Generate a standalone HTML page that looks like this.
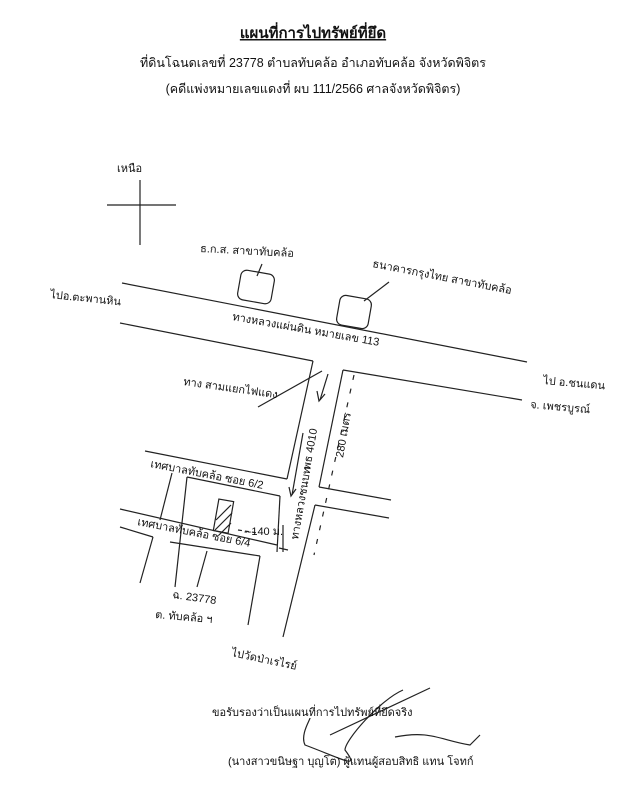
<!DOCTYPE html>
<html><head><meta charset="utf-8"><style>
body{margin:0;background:#fff;}
svg{display:block}
text{font-family:"Liberation Sans","Noto Sans CJK SC",sans-serif;fill:#111}
.h{font-family:"Liberation Serif","Noto Serif CJK SC",serif}
</style></head><body>
<svg width="626" height="800" viewBox="0 0 626 800" xmlns="http://www.w3.org/2000/svg">
<g class="h">
<text x="313" y="38" font-size="15" font-weight="bold" text-anchor="middle" text-decoration="underline">แผนที่การไปทรัพย์ที่ยึด</text>
<text x="313" y="67" font-size="12.5" text-anchor="middle">ที่ดินโฉนดเลขที่  23778  ตำบลทับคล้อ  อำเภอทับคล้อ  จังหวัดพิจิตร</text>
<text x="313" y="93" font-size="12.5" text-anchor="middle">(คดีแพ่งหมายเลขแดงที่ ผบ 111/2566 ศาลจังหวัดพิจิตร)</text>
</g>
<g stroke="#222" stroke-width="1.2" fill="none">
<!-- north cross -->
<line x1="140" y1="180" x2="140" y2="245"/>
<line x1="107" y1="205" x2="176" y2="205"/>
<!-- main road -->
<line x1="122" y1="283" x2="527" y2="362"/>
<line x1="120" y1="323" x2="313" y2="361"/>
<line x1="343" y1="370" x2="522" y2="400"/>
<!-- vertical road -->
<line x1="313" y1="361" x2="287" y2="479"/>
<line x1="343" y1="370" x2="319" y2="487"/>
<line x1="315" y1="505" x2="283" y2="637"/>
<line x1="280" y1="496" x2="277" y2="552"/>
<!-- right side road -->
<line x1="319" y1="487" x2="391" y2="500"/>
<line x1="315" y1="505" x2="389" y2="518"/>
<!-- soi 6/2 -->
<line x1="145" y1="451" x2="287" y2="479"/>
<line x1="187" y1="477" x2="280" y2="496"/>
<line x1="187" y1="477" x2="175" y2="587"/>
<line x1="172" y1="473" x2="160" y2="520"/>
<!-- soi 6/4 -->
<line x1="120" y1="509" x2="277" y2="545"/>
<line x1="120" y1="527" x2="153" y2="537"/>
<line x1="153" y1="537" x2="140" y2="583"/>
<line x1="170" y1="542" x2="260" y2="556"/>
<line x1="260" y1="556" x2="248" y2="625"/>
<!-- buildings -->
<rect x="239" y="272" width="34" height="30" rx="6" transform="rotate(10 256 287)"/>
<rect x="338" y="297" width="32" height="30" rx="6" transform="rotate(10 354 312)"/>
<line x1="262" y1="264" x2="257" y2="276"/>
<line x1="389" y1="282" x2="364" y2="301"/>
<!-- leader -->
<line x1="322" y1="371" x2="258" y2="407"/>
<!-- arrow down -->
<line x1="328" y1="374" x2="320" y2="400"/>
<polyline points="317,391 319,401 325,394"/>
<line x1="303" y1="433" x2="292" y2="495"/>
<polyline points="289,487 291,496 296,489"/>
<!-- 280 m dashed -->
<line x1="354" y1="375" x2="314" y2="555" stroke-dasharray="5,9"/>
<!-- plot -->
<rect x="216" y="500" width="15" height="32" transform="rotate(10 223 516)"/>
<line x1="216" y1="520" x2="231" y2="505"/>
<line x1="215" y1="530" x2="232" y2="513"/>
<line x1="219" y1="535" x2="231" y2="523"/>
<line x1="207" y1="551" x2="197" y2="587"/>
<line x1="238" y1="530" x2="258" y2="533" stroke-dasharray="4,3"/>
<line x1="279" y1="548" x2="288" y2="550"/>
<line x1="283" y1="525" x2="283" y2="552"/>
<!-- signature -->
<path d="M403 690 C380 700 345 740 345 750 C360 770 345 760 305 745 C300 735 310 720 310 718" />
<path d="M430 688 L330 735"/>
<path d="M395 737 C430 730 440 740 470 745 L480 735"/>
</g>
<g font-size="11">
<text x="117" y="172">เหนือ</text>
<text x="200" y="252" transform="rotate(3 200 252)">ธ.ก.ส. สาขาทับคล้อ</text>
<text x="372" y="267" transform="rotate(11 372 267)">ธนาคารกรุงไทย สาขาทับคล้อ</text>
<text x="50" y="298" transform="rotate(6 50 298)">ไปอ.ตะพานหิน</text>
<text x="232" y="320" transform="rotate(10 232 320)">ทางหลวงแผ่นดิน หมายเลข 113</text>
<text x="183" y="385" transform="rotate(8 183 385)">ทาง สามแยกไฟแดง</text>
<text x="543" y="384" transform="rotate(5 543 384)">ไป อ.ชนแดน</text>
<text x="530" y="408" transform="rotate(5 530 408)">จ. เพชรบูรณ์</text>
<text x="150" y="467" transform="rotate(11 150 467)">เทศบาลทับคล้อ ซอย 6/2</text>
<text x="137" y="525" transform="rotate(11 137 525)">เทศบาลทับคล้อ ซอย 6/4</text>
<text x="244" y="535">--140 ม.</text>
<text x="310" y="470" transform="rotate(-80 310 470)">พธ 4010</text>
<text x="343" y="458" transform="rotate(-80 343 458)">280 เมตร</text>
<text x="298" y="540" transform="rotate(-80 298 540)">ทางหลวงชนบท</text>
<text x="172" y="598" transform="rotate(8 172 598)">ฉ. 23778</text>
<text x="155" y="618" transform="rotate(5 155 618)">ต. ทับคล้อ ฯ</text>
<text x="231" y="656" transform="rotate(12 231 656)">ไปวัดป่าเรไรย์</text>
<text x="212" y="716">ขอรับรองว่าเป็นแผนที่การไปทรัพย์ที่ยึดจริง</text>
<text x="228" y="765">(นางสาวขนิษฐา  บุญโต) ผู้แทนผู้สอบสิทธิ แทน โจทก์</text>
</g>
</svg>
</body></html>
